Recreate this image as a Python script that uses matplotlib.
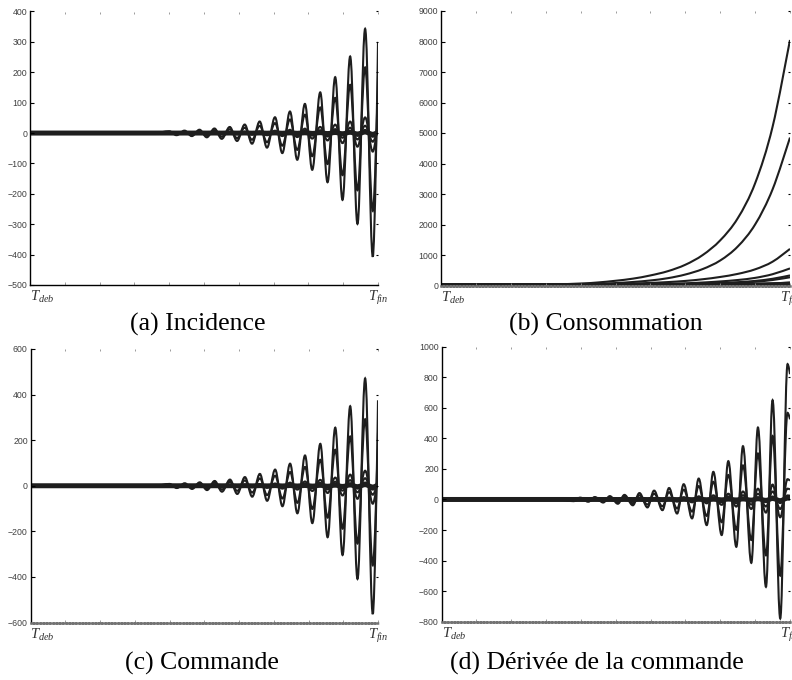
import numpy as np
import matplotlib
matplotlib.use('Agg')
import matplotlib.pyplot as plt
from matplotlib.path import Path
from matplotlib.patches import PathPatch

plt.rcParams['mathtext.fontset'] = 'custom'
plt.rcParams['mathtext.it'] = 'Liberation Serif:italic'
plt.rcParams['mathtext.rm'] = 'Liberation Serif'

# (a) Incidence : extrema of the largest oscillation (time as fraction of [Tdeb, Tfin]),
# first point = start of the oscillation, last point = value reached at Tfin
t_ext_a = [0.360, 0.400, 0.421, 0.444, 0.465, 0.487, 0.508, 0.530, 0.551, 0.574, 0.595,
           0.617, 0.638, 0.660, 0.681, 0.704, 0.725, 0.747, 0.768, 0.790, 0.811,
           0.834, 0.855, 0.877, 0.898, 0.920, 0.941, 0.963, 0.985, 1.0]
env_a = [0, 6, -7, 8, -10, 11, -14, 15, -19, 20, -26, 28, -35, 38, -48, 52, -66,
         71, -88, 96, -121, 134, -162, 184, -220, 252, -299, 343, -407, 300]

# (c) Commande
t_ext_c = t_ext_a
env_c = [0, 8, -10, 11, -14, 15, -19, 21, -26, 27, -36, 38, -48, 52, -66, 71, -90,
         97, -121, 133, -164, 184, -226, 255, -304, 349, -409, 471, -563, 375]

# (d) Derivee de la commande
t_ext_d = [0.340, 0.379, 0.398, 0.421, 0.440, 0.464, 0.483, 0.506, 0.525, 0.549, 0.568,
           0.591, 0.610, 0.634, 0.653, 0.676, 0.695, 0.719, 0.738, 0.761, 0.780,
           0.804, 0.823, 0.846, 0.865, 0.889, 0.908, 0.931, 0.950, 0.972, 0.993, 1.0]
env_d = [0, -11, 12, -15, 16, -20, 22, -28, 30, -38, 42, -52, 58, -70, 75, -92, 100,
         -124, 137, -168, 181, -233, 251, -310, 349, -415, 471, -572, 650, -779, 886, 820]

# other trajectories, as amplitude ratio to the largest one
ratios_a = [0.63, 0.15, 0.07, 0.03, 0.01]
ratios_c = [0.62, 0.14, 0.07, 0.03, 0.01]
ratios_d = [0.64, 0.15, 0.08, 0.03, 0.01]

# (b) Consommation
t_b = [0, 0.1, 0.2, 0.3, 0.4, 0.45, 0.5, 0.55, 0.6, 0.65, 0.7, 0.75, 0.8, 0.85, 0.9, 0.95, 1.0]
conso = [
    [0, 2, 8, 25, 65, 100, 155, 225, 330, 470, 680, 1000, 1480, 2200, 3350, 5200, 8050],
    [0, 1, 5, 15, 38, 55, 80, 115, 165, 240, 360, 540, 820, 1275, 2000, 3150, 4850],
    [0, 0, 3, 10, 25, 35, 48, 65, 85, 112, 150, 205, 280, 380, 530, 780, 1200],
    [0, 0, 1, 5, 12, 17, 23, 31, 41, 54, 72, 98, 133, 180, 250, 370, 560],
    [0, 0, 1, 3, 7, 10, 14, 19, 25, 33, 44, 59, 80, 108, 150, 220, 330],
    [0, 0, 1, 2, 6, 8, 11, 15, 20, 27, 36, 48, 65, 88, 122, 180, 270],
    [0, 0, 0, 1, 2, 3, 4, 6, 8, 10, 13, 18, 24, 33, 45, 66, 100],
    [0, 0, 0, 0, 1, 1, 2, 2, 3, 4, 5, 7, 10, 13, 18, 26, 40],
]

captions = ['(a) Incidence', '(b) Consommation', '(c) Commande',
            u'(d) Dérivée de la commande']
xlabels = [r'$T_{deb}$'] + [''] * 9 + [r'$T_{fin}$']


def wave_path(ts, ys, k=0.36):
    # smooth oscillation through extrema (horizontal tangents), free slope at the end
    verts = [(ts[0], ys[0])]
    codes = [Path.MOVETO]
    n = len(ts)
    for i in range(1, n):
        h = ts[i] - ts[i - 1]
        c1 = (ts[i - 1] + k * h, ys[i - 1])
        if i == n - 1:
            c2 = (ts[i] - 0.12 * h, ys[i - 1] + 0.8 * (ys[i] - ys[i - 1]))
        else:
            c2 = (ts[i] - k * h, ys[i])
        verts += [c1, c2, (ts[i], ys[i])]
        codes += [Path.CURVE4] * 3
    return Path(verts, codes)


def smooth_path(ts, ys):
    # catmull-rom through measured points
    pts = np.column_stack([ts, ys]).astype(float)
    verts = [tuple(pts[0])]
    codes = [Path.MOVETO]
    n = len(pts)
    for i in range(n - 1):
        p0 = pts[max(i - 1, 0)]
        p1, p2 = pts[i], pts[i + 1]
        p3 = pts[min(i + 2, n - 1)]
        verts += [tuple(p1 + (p2 - p0) / 6), tuple(p2 - (p3 - p1) / 6), tuple(p2)]
        codes += [Path.CURVE4] * 3
    return Path(verts, codes)


def draw_osc(ax, t_ext, env, ratios):
    ts = [0.0] + list(t_ext)
    for ratio in ratios[::-1]:
        ys = [0.0] + [v * ratio for v in env]
        lw = 3.6 if ratio < 0.02 else 1.5
        ax.add_patch(PathPatch(wave_path(ts, ys), fill=False, ec='#1e1e1e', lw=lw))
    ax.add_patch(PathPatch(wave_path(ts, [0.0] + list(env)), fill=False,
                           ec='#1e1e1e', lw=1.5))


def style(ax, ylim, step, hatched):
    ax.set_xlim(0, 1)
    ax.set_ylim(*ylim)
    ax.set_yticks(np.arange(ylim[0], ylim[1] + 1, step))
    ax.set_xticks(np.linspace(0, 1, 11))
    ax.set_xticklabels(xlabels)
    for lab in ax.get_yticklabels():
        lab.set_family('Liberation Sans')
    ax.tick_params(axis='y', direction='in', length=3, width=0.8, color='k',
                   labelsize=6.3, labelcolor='0.25', pad=2, right=True)
    ax.tick_params(axis='x', direction='in', length=2, width=0.6, color='0.55',
                   labelsize=10.5, labelcolor='0.2', pad=3, top=True)
    for tk in ax.yaxis.get_major_ticks():
        tk.tick2line.set_color('0.6')
        tk.tick2line.set_markersize(1.5)
    for tk in ax.xaxis.get_major_ticks():
        tk.tick2line.set_markersize(1.5)
    labs = ax.get_xticklabels()
    labs[0].set_ha('left')
    ax.spines['top'].set_visible(False)
    ax.spines['right'].set_visible(False)
    ax.spines['left'].set_linewidth(1.0)
    if hatched:
        ax.spines['bottom'].set_color('0.45')
        ax.spines['bottom'].set_linewidth(1.8)
        ax.spines['bottom'].set_linestyle((0, (0.8, 0.5)))
    else:
        ax.spines['bottom'].set_linewidth(1.0)


fig = plt.figure(figsize=(7.92, 6.8), dpi=100)
W, H = 792.0, 680.0
ax_a = fig.add_axes([30 / W, 1 - 285 / H, 348 / W, 273.5 / H])
ax_b = fig.add_axes([441 / W, 1 - 285.5 / H, 349 / W, 274.5 / H])
ax_c = fig.add_axes([30.5 / W, 1 - 622.5 / H, 347.5 / W, 273.5 / H])
ax_d = fig.add_axes([441.5 / W, 1 - 621.7 / H, 348.5 / W, 275 / H])

draw_osc(ax_a, t_ext_a, env_a, ratios_a)
style(ax_a, (-500, 400), 100, False)

for i, serie in enumerate(conso):
    lw = 1.5 if i < 7 else 3.6
    ax_b.add_patch(PathPatch(smooth_path(t_b, serie), fill=False, ec='#1e1e1e', lw=lw))
style(ax_b, (0, 9000), 1000, True)

draw_osc(ax_c, t_ext_c, env_c, ratios_c)
style(ax_c, (-600, 600), 200, True)

draw_osc(ax_d, t_ext_d, env_d, ratios_d)
style(ax_d, (-800, 1000), 200, True)

cap_kw = dict(ha='center', va='center', fontsize=18.5, family='Liberation Serif')
fig.text(198 / W, 1 - 324 / H, captions[0], **cap_kw)
fig.text(606 / W, 1 - 324 / H, captions[1], **cap_kw)
fig.text(202 / W, 1 - 663 / H, captions[2], **cap_kw)
fig.text(597 / W, 1 - 663 / H, captions[3], **cap_kw)

fig.savefig('out.png', dpi=100)
